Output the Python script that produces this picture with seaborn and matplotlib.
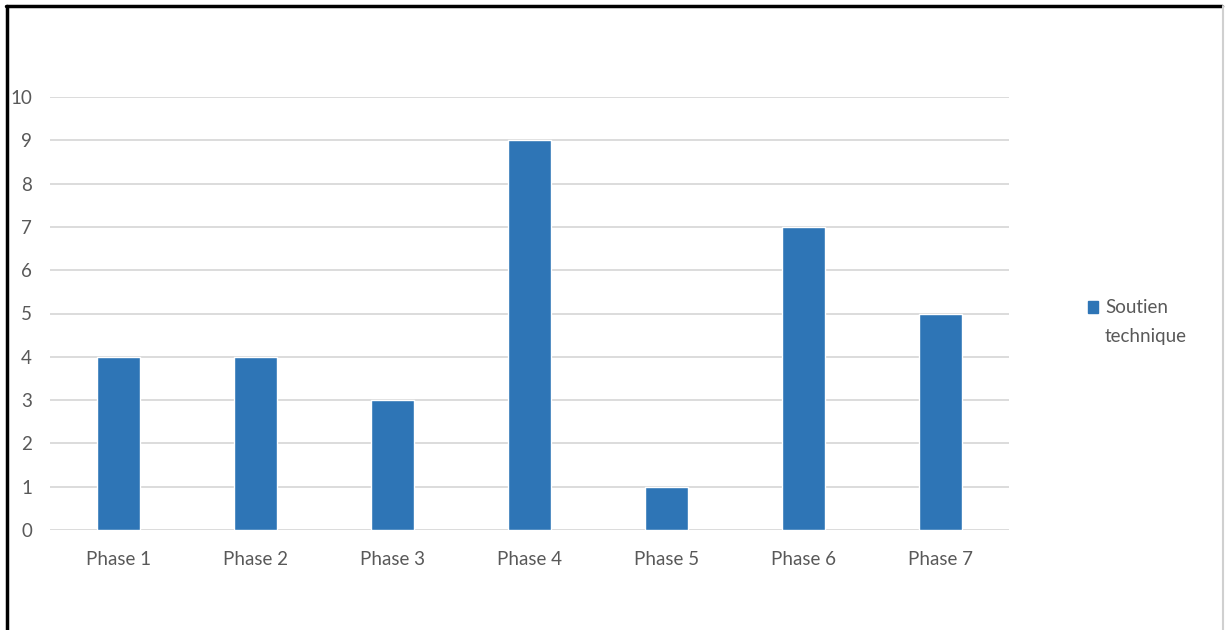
import matplotlib
matplotlib.use("Agg")
import matplotlib.pyplot as plt
import matplotlib.font_manager as fm
import seaborn as sns
import pandas as pd
from matplotlib.patches import Patch

categories = ["Phase 1", "Phase 2", "Phase 3", "Phase 4", "Phase 5", "Phase 6", "Phase 7"]
values = [4, 4, 3, 9, 1, 7, 5]
series_name = "Soutien\ntechnique"
yticks = list(range(0, 11))

sns.set_theme(style="white")
plt.rcParams['font.family'] = ['Lato', 'DejaVu Sans']
fs = 13.5

df = pd.DataFrame({"Phase": categories, "Valeur": values})

fig = plt.figure(figsize=(12.25, 6.3), dpi=100)
ax = fig.add_axes([50/1225, 1-530/630, (1009-50)/1225, (530-97)/630])

color = "#2E75B6"
sns.barplot(data=df, x="Phase", y="Valeur", color=color, width=0.32, ax=ax,
            saturation=1, zorder=3)

ax.set_ylim(0, 10)
ax.set_xlim(-0.5, len(categories) - 0.5)
ax.set_yticks(yticks)
ax.set_yticklabels([str(t) for t in yticks])
ax.yaxis.grid(True, color="#D9D9D9", linewidth=1.3, zorder=0)
ax.set_axisbelow(True)
for s in ax.spines.values():
    s.set_visible(False)
ax.set_xlabel("")
ax.set_ylabel("")
ax.tick_params(axis="both", length=0, labelsize=fs, colors="#595959")
ax.tick_params(axis="x", pad=15)
ax.tick_params(axis="y", pad=13)

handle = Patch(facecolor=color, edgecolor=color)
leg = fig.legend([handle], [series_name], loc="center left",
                 bbox_to_anchor=(1088/1225, 1-322/630), frameon=False,
                 fontsize=fs, handlelength=0.55, handleheight=0.55,
                 handletextpad=0.35, labelcolor="#595959", borderaxespad=0,
                 borderpad=0)
for t in leg.get_texts():
    t.set_linespacing(1.8)
# put the square next to the first line of the label
for h in leg.legend_handles:
    h.set_y(h.get_y() + 11)

# frame around the picture (black top and left, light right edge)
fig.add_artist(plt.Line2D([6/1225, 1222/1225], [1-6/630, 1-6/630], color="black", linewidth=2.5,
                          transform=fig.transFigure))
fig.add_artist(plt.Line2D([7/1225, 7/1225], [0, 1-6/630], color="black", linewidth=2.5,
                          transform=fig.transFigure))
fig.add_artist(plt.Line2D([1223/1225, 1223/1225], [0, 1-6/630], color="#D0D0D0", linewidth=1.5,
                          transform=fig.transFigure))

fig.savefig("out.png", dpi=100, facecolor="white")
